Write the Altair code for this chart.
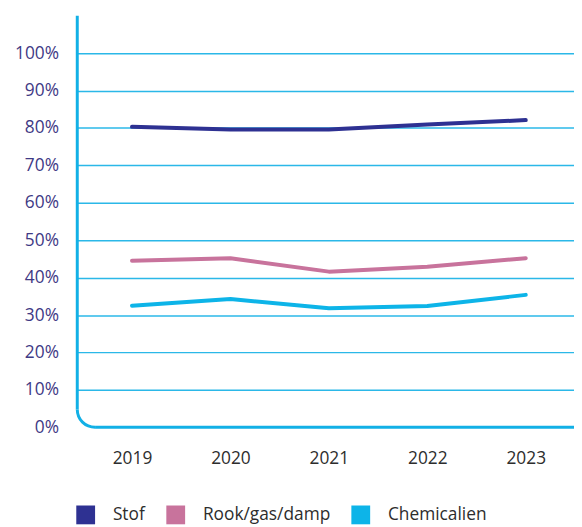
import math
import altair as alt
import pandas as pd

years = [2019, 2020, 2021, 2022, 2023]
stof = [80.3, 79.6, 79.6, 80.9, 82.1]
rook = [44.5, 45.2, 41.6, 42.9, 45.2]
chem = [32.5, 34.3, 31.8, 32.4, 35.4]
series = ["Stof", "Rook/gas/damp", "Chemicalien"]
colors = ["#2e3192", "#c8739c", "#0db4e8"]
y_ticks = list(range(0, 101, 10))

rows = []
for name, vals in zip(series, [stof, rook, chem]):
    for yr, v in zip(years, vals):
        rows.append({"year": yr, "value": v, "series": name})
df = pd.DataFrame(rows)

W, H, R = 502, 416, 18
AXIS_C = "#12b0e6"
FONT = "Open Sans"

x = alt.X("year:Q",
          scale=alt.Scale(domain=[2018.444, 2023.49], nice=False, zero=False),
          axis=alt.Axis(values=years, format="d", title=None, domain=False, ticks=False,
                        grid=False, labelFont=FONT, labelFontSize=17.5, labelColor="#2d2d2d",
                        labelPadding=23))
y = alt.Y("value:Q",
          scale=alt.Scale(domain=[0, 110], nice=False),
          axis=alt.Axis(values=y_ticks, labelExpr="datum.value + '%'", title=None,
                        domain=False, ticks=False, grid=True, gridColor="#2bb8e8",
                        gridWidth=1.5,
                        gridOpacity={"condition": {"test": "datum.value == 0", "value": 0}, "value": 1},
                        labelFont=FONT, labelFontSize=17.5, labelColor="#3f3a85",
                        labelPadding=19))

color_scale = alt.Scale(domain=series, range=colors)

lines = alt.Chart(df).mark_line(strokeWidth=4, strokeCap="round", strokeJoin="round").encode(
    x=x, y=y,
    color=alt.Color("series:N", sort=series, scale=color_scale, legend=None),
)

legend_marks = alt.Chart(df).mark_square(size=4, filled=True, opacity=1).encode(
    x=x, y=y,
    color=alt.Color("series:N", sort=series, scale=color_scale,
                    legend=alt.Legend(title=None, orient="none", direction="horizontal",
                                      legendX=-1, legendY=495, symbolType="square",
                                      symbolSize=361, symbolStrokeWidth=0,
                                      labelFont=FONT, labelFontSize=17.5, labelColor="#2d2d2d",
                                      labelOffset=18, columnPadding=21)),
)

one = pd.DataFrame({"a": [0]})
vline = alt.Chart(one).mark_rule(color=AXIS_C, strokeWidth=3).encode(
    x=alt.value(0), y=alt.value(0), y2=alt.value(H - R))
hline = alt.Chart(one).mark_rule(color=AXIS_C, strokeWidth=3).encode(
    x=alt.value(R), x2=alt.value(W), y=alt.value(H))
corner = alt.Chart(one).mark_arc(color=AXIS_C, radius=R + 1.5, radius2=R - 1.5,
                                 theta=math.pi, theta2=1.5 * math.pi).encode(
    x=alt.value(R), y=alt.value(H - R))

chart = alt.layer(lines, legend_marks, vline, hline, corner).resolve_legend(
    color="independent"
).properties(
    width=W, height=H,
    autosize=alt.AutoSizeParams(type="none"),
    padding={"left": 70, "top": 5, "right": 0, "bottom": 102},
).configure_view(stroke=None)

chart.save("out.html", embed_options={"renderer": "svg", "actions": False})
